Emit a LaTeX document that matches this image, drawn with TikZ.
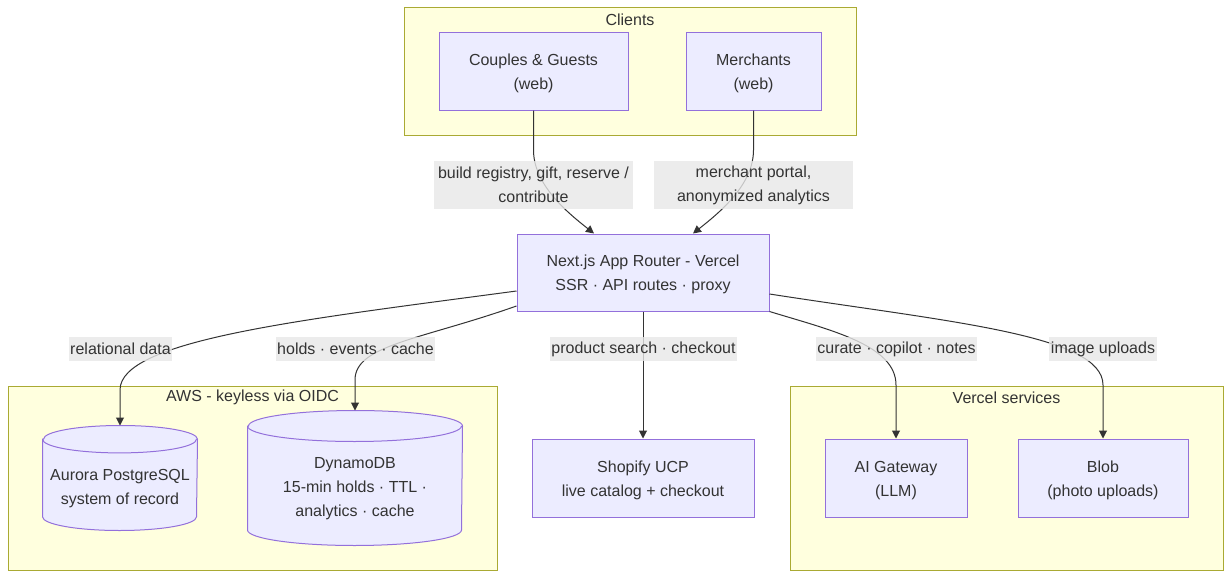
\documentclass[tikz,border=0pt]{standalone}
\usepackage{fontspec}
\setmainfont{Liberation Sans}
\usetikzlibrary{arrows.meta}
\definecolor{nodefill}{HTML}{ECECFF}
\definecolor{nodeline}{HTML}{9370DB}
\definecolor{grpfill}{HTML}{FFFFDE}
\definecolor{grpline}{HTML}{AAAA33}
\definecolor{lblfill}{HTML}{E8E8E8}
\definecolor{edgecol}{HTML}{333333}
\definecolor{txt}{HTML}{333333}

\begin{document}
\begin{tikzpicture}[x=1pt,y=1pt,line width=1pt,>={Triangle[length=8pt,width=8pt]},
  every node/.style={font=\fontsize{16}{24}\selectfont,text=txt,align=center},
  caja/.style={draw=nodeline,fill=nodefill,minimum height=77pt,inner sep=0pt,text height=39.5pt},
  grupo/.style={draw=grpline,fill=grpfill,inner sep=0pt,minimum height=184pt},
  titulo/.style={text height=12.5pt},
  etiq/.style={fill=lblfill,fill opacity=0.8,text opacity=1,inner xsep=1.5pt,inner ysep=0pt,
    minimum height=24pt,text height=12.5pt},
  flecha/.style={->,draw=edgecol}]
  \fill[white] (0,0) rectangle (1232,-578);
  \useasboundingbox (0,0) rectangle (1232,-578);
  % grupos
  \node[grupo,minimum width=452pt,minimum height=127pt] (cli) at (630,-71.5) {};
  \node[grupo,minimum width=489pt] (aws) at (252.5,-478) {};
  \node[grupo,minimum width=433pt] (vsv) at (1006.5,-478) {};
  \node[titulo] (clit) at (630,-19) {Clients};
  \node[titulo] (awst) at (252.5,-397) {AWS - keyless via OIDC};
  \node[titulo] (vsvt) at (1006.5,-397) {Vercel services};
  % nodos
  \node[caja,minimum width=189pt] (cpl) at (533.5,-71.5) {Couples \& Guests\\(web)};
  \node[caja,minimum width=135pt] (mer) at (753.5,-71.5) {Merchants\\(web)};
  \node[caja,minimum width=252pt] (app) at (643,-272.5) {Next.js App Router - Vercel\\SSR · API routes · proxy};
  \node[caja,minimum width=222pt,minimum height=78pt] (shp) at (643,-478) {Shopify UCP\\live catalog + checkout};
  \node[caja,minimum width=142pt,minimum height=78pt] (ai) at (896,-478) {AI Gateway\\(LLM)};
  \node[caja,minimum width=170pt,minimum height=78pt] (blb) at (1103,-478) {Blob\\(photo uploads)};
  % cilindros
  \node[minimum width=154pt,minimum height=104pt,inner sep=0pt] (aur) at (120,-478) {};
  \node[minimum width=214pt,minimum height=134pt,inner sep=0pt] (dyn) at (355,-478) {};
  \foreach \n/\w/\r in {aur/77/13.7,dyn/107/15.5}{
    \draw[draw=nodeline,fill=nodefill] ([yshift=-\r pt]\n.north west) -- ([yshift=\r pt]\n.south west)
      arc[start angle=180,end angle=360,x radius=\w pt,y radius=\r pt] -- ([yshift=-\r pt]\n.north east)
      arc[start angle=0,end angle=180,x radius=\w pt,y radius=\r pt] -- cycle;
    \draw[nodeline] ([yshift=-\r pt]\n.north west) arc[start angle=180,end angle=360,x radius=\w pt,y radius=\r pt];
  }
  \node (aurt) at (120,-489) {Aurora PostgreSQL\\system of record};
  \node (dynt) at (355,-489) {DynamoDB\\15-min holds · TTL ·\\analytics · cache};
  % flechas
  \draw[flecha] (cpl.south) -- (533.5,-150) .. controls (533.5,-185) and (568,-213) .. ([xshift=-49pt]app.north);
  \draw[flecha] (mer.south) -- (753.5,-150) .. controls (753.5,-185) and (719,-213) .. ([xshift=50pt]app.north);
  \draw[flecha] ([yshift=-18.5pt]app.west) .. controls (300,-320) and (120,-340) .. (120,-390) -- (aur.north);
  \draw[flecha] ([yshift=-33.5pt]app.west) .. controls (420,-340) and (355,-345) .. (355,-380) -- (dyn.north);
  \draw[flecha] (app.south) -- (shp.north);
  \draw[flecha] (app.south east) .. controls (830,-330) and (896,-345) .. (896,-385) -- (ai.north);
  \draw[flecha] ([yshift=-21.5pt]app.east) .. controls (950,-322) and (1103,-335) .. (1103,-385) -- (blb.north);
  % etiquetas
  \node[etiq,minimum width=199pt,minimum height=48pt,text height=36pt] (l1) at (533.5,-185) {build registry, gift, reserve /\\contribute};
  \node[etiq,minimum width=199pt,minimum height=48pt,text height=36pt] (l2) at (753.5,-185) {merchant portal,\\anonymized analytics};
  \node[etiq] (l3) at (120.5,-348.5) {relational data};
  \node[etiq] (l4) at (355.5,-348.5) {holds · events · cache};
  \node[etiq] (l5) at (643.5,-348.5) {product search · checkout};
  \node[etiq] (l6) at (896.5,-348.5) {curate · copilot · notes};
  \node[etiq] (l7) at (1103,-348.5) {image uploads};
\end{tikzpicture}
\end{document}
